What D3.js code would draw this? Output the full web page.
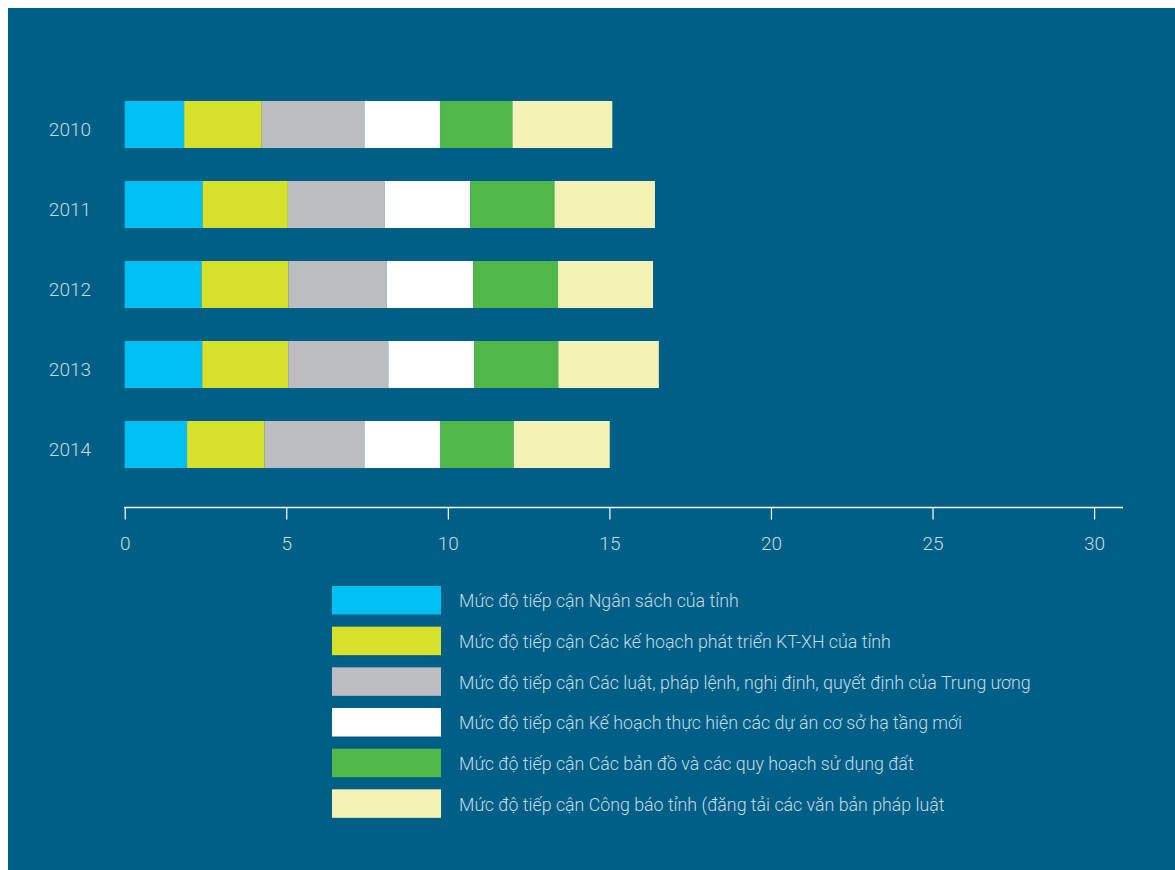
<!DOCTYPE html>
<html>
<head>
<meta charset="utf-8">
<script src="https://cdn.jsdelivr.net/npm/d3@7"></script>
<style>
  html, body { margin: 0; padding: 0; background: #ffffff; }
  svg { display: block; }
  text { font-family: Roboto, "Liberation Sans", sans-serif; font-weight: 300; }
</style>
</head>
<body>
<script>
const years = ["2010", "2011", "2012", "2013", "2014"];
const seriesNames = [
  "Mức độ tiếp cận Ngân sách của tỉnh",
  "Mức độ tiếp cận Các kế hoạch phát triển KT-XH của tỉnh",
  "Mức độ tiếp cận Các luật, pháp lệnh, nghị định, quyết định của Trung ương",
  "Mức độ tiếp cận Kế hoạch thực hiện các dự án cơ sở hạ tầng mới",
  "Mức độ tiếp cận Các bản đồ và các quy hoạch sử dụng đất",
  "Mức độ tiếp cận Công báo tỉnh (đăng tải các văn bản pháp luật"
];
const ngansach   = [1.84, 2.41, 2.38, 2.40, 1.93];
const kehoach    = [2.40, 2.64, 2.69, 2.66, 2.40];
const luat       = [3.18, 3.00, 3.04, 3.10, 3.09];
const hatang     = [2.34, 2.64, 2.67, 2.66, 2.35];
const bando      = [2.24, 2.61, 2.63, 2.60, 2.27];
const congbao    = [3.09, 3.11, 2.94, 3.11, 2.97];
const xTicks = [0, 5, 10, 15, 20, 25, 30];
const colors = ["#00bff3", "#d7e02a", "#bcbdc1", "#ffffff", "#50b848", "#f3f2b4"];

const W = 1175, H = 870;
const bg = "#005f87";
const txt = "#c5dbe6";

const svg = d3.select("body").append("svg").attr("width", W).attr("height", H);
svg.append("rect").attr("x", 8).attr("y", 8).attr("width", W - 8).attr("height", H - 8).attr("fill", bg);

const table = years.map((y, i) => ({
  year: y, s0: ngansach[i], s1: kehoach[i], s2: luat[i], s3: hatang[i], s4: bando[i], s5: congbao[i]
}));
const keys = ["s0", "s1", "s2", "s3", "s4", "s5"];
const stacked = d3.stack().keys(keys)(table);

const x = d3.scaleLinear().domain([0, 30]).range([124.7, 1094.1]);
const y = d3.scaleBand().domain(years).range([84.5, 484.5]).paddingInner(0.4125).paddingOuter(0.206);

const g = svg.append("g");
stacked.forEach((layer, k) => {
  g.selectAll(null).data(layer).enter().append("rect")
    .attr("x", d => x(d[0]))
    .attr("y", d => y(d.data.year))
    .attr("width", d => x(d[1]) - x(d[0]))
    .attr("height", y.bandwidth())
    .attr("fill", colors[k]);
});

// year labels
svg.selectAll(null).data(years).enter().append("text")
  .attr("x", 91)
  .attr("y", d => y(d) + y.bandwidth() / 2 + 5)
  .attr("dy", "0.32em")
  .attr("text-anchor", "end")
  .attr("fill", txt)
  .attr("font-size", 19)
  .text(d => d);

// x axis
const axisG = svg.append("g").attr("transform", "translate(0,507.5)");
axisG.call(d3.axisBottom(x).tickValues(xTicks).tickSize(12).tickPadding(17).tickFormat(d3.format("d")));
axisG.select(".domain").remove();
axisG.append("line").attr("x1", 124).attr("x2", 1123).attr("y1", 0).attr("y2", 0)
  .attr("stroke", "#ffffff").attr("stroke-width", 1.6);
axisG.selectAll(".tick line").attr("stroke", "#ffffff").attr("stroke-width", 1.2);
axisG.selectAll(".tick text").attr("fill", txt).attr("font-size", 19)
  .attr("font-family", "Roboto, 'Liberation Sans', sans-serif").attr("font-weight", 300);

// legend
const lg = svg.append("g");
const legY = d3.scaleBand().domain(d3.range(seriesNames.length)).range([586, 830]);
seriesNames.forEach((name, i) => {
  lg.append("rect").attr("x", 332).attr("y", legY(i)).attr("width", 109).attr("height", 28.5).attr("fill", colors[i]);
  lg.append("text").attr("x", 459).attr("y", legY(i) + 14.25 + 7)
    .attr("fill", txt).attr("font-size", 17.8).text(name);
});
</script>
</body>
</html>
